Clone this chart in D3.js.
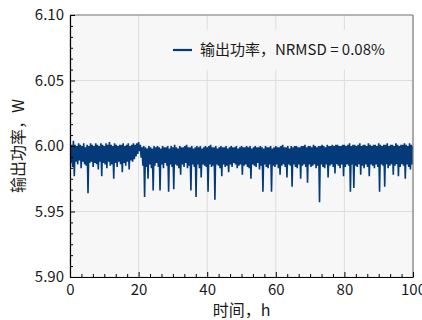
<!DOCTYPE html>
<html>
<head>
<meta charset="utf-8">
<script src="https://cdn.jsdelivr.net/npm/d3@7"></script>
<style>
  html, body { margin: 0; padding: 0; background: #ffffff; }
  svg { display: block; font-family: "Noto Sans CJK SC", "Noto Sans", sans-serif; }
</style>
</head>
<body>
<div id="chart"></div>
<script>
// time step between samples, h
const sampleStep = 0.25;

// measured output power, W (one row per hour, 4 samples each)
const power = [
  5.999, 5.987, 6.001, 5.984,
  6.004, 5.977, 6.001, 5.988,
  6.000, 5.986, 6.002, 5.989,
  6.001, 5.983, 6.000, 5.988,
  6.002, 5.986, 5.999, 5.985,
  6.001, 5.964, 6.000, 5.987,
  6.002, 5.988, 6.001, 5.984,
  6.000, 5.987, 6.002, 5.986,
  6.001, 5.982, 6.000, 5.988,
  6.002, 5.977, 6.001, 5.987,
  6.000, 5.986, 6.002, 5.983,
  6.001, 5.988, 6.003, 5.985,
  6.001, 5.986, 6.000, 5.975,
  6.002, 5.987, 6.001, 5.984,
  6.000, 5.988, 6.001, 5.986,
  6.001, 5.980, 6.002, 5.987,
  6.000, 5.985, 6.001, 5.988,
  6.002, 5.982, 6.000, 5.989,
  6.001, 5.988, 6.002, 5.990,
  6.001, 5.992, 6.002, 5.994,
  6.003, 5.996, 6.001, 5.991,
  5.999, 5.985, 6.000, 5.961,
  5.999, 5.984, 5.998, 5.975,
  6.000, 5.986, 5.999, 5.983,
  5.998, 5.966, 6.000, 5.985,
  5.999, 5.987, 6.000, 5.984,
  5.999, 5.966, 5.998, 5.986,
  6.000, 5.983, 5.999, 5.987,
  5.999, 5.985, 6.000, 5.965,
  5.998, 5.986, 6.000, 5.984,
  5.999, 5.967, 6.001, 5.986,
  5.999, 5.985, 5.998, 5.983,
  6.000, 5.978, 5.999, 5.986,
  5.999, 5.984, 6.000, 5.987,
  6.001, 5.983, 5.999, 5.985,
  5.999, 5.966, 6.000, 5.986,
  5.998, 5.984, 5.999, 5.961,
  6.000, 5.986, 5.999, 5.983,
  6.000, 5.976, 5.998, 5.986,
  5.999, 5.985, 6.000, 5.984,
  5.999, 5.965, 6.000, 5.986,
  6.001, 5.984, 5.999, 5.985,
  5.999, 5.959, 6.000, 5.986,
  5.998, 5.985, 5.999, 5.983,
  6.000, 5.977, 5.999, 5.986,
  5.999, 5.984, 6.000, 5.985,
  5.998, 5.980, 5.999, 5.986,
  6.000, 5.984, 5.999, 5.987,
  5.999, 5.986, 6.000, 5.983,
  5.998, 5.985, 5.999, 5.986,
  6.000, 5.978, 5.999, 5.985,
  5.999, 5.986, 6.000, 5.984,
  5.999, 5.983, 6.000, 5.975,
  5.998, 5.986, 5.999, 5.985,
  6.000, 5.984, 5.999, 5.987,
  5.999, 5.982, 6.000, 5.985,
  5.999, 5.965, 5.998, 5.986,
  6.000, 5.984, 5.999, 5.983,
  5.999, 5.986, 6.000, 5.965,
  5.998, 5.985, 5.999, 5.984,
  6.000, 5.986, 5.999, 5.983,
  5.999, 5.978, 6.000, 5.985,
  6.001, 5.986, 5.999, 5.984,
  5.999, 5.976, 6.000, 5.986,
  5.998, 5.985, 6.000, 5.969,
  5.999, 5.986, 6.000, 5.984,
  6.000, 5.983, 5.999, 5.986,
  5.999, 5.975, 6.000, 5.985,
  6.000, 5.986, 6.001, 5.984,
  5.999, 5.972, 6.000, 5.986,
  6.000, 5.984, 5.999, 5.985,
  6.001, 5.986, 6.000, 5.983,
  5.999, 5.985, 6.000, 5.957,
  6.000, 5.986, 6.001, 5.984,
  6.000, 5.983, 5.999, 5.986,
  6.001, 5.976, 6.000, 5.985,
  6.000, 5.986, 6.001, 5.984,
  6.000, 5.979, 6.001, 5.986,
  6.001, 5.985, 6.000, 5.983,
  6.000, 5.986, 6.001, 5.977,
  6.001, 5.984, 6.000, 5.986,
  6.001, 5.985, 6.002, 5.965,
  6.000, 5.986, 6.001, 5.968,
  6.001, 5.985, 6.000, 5.984,
  6.001, 5.986, 6.002, 5.978,
  6.000, 5.985, 6.001, 5.983,
  6.001, 5.986, 6.000, 5.984,
  6.002, 5.977, 6.001, 5.986,
  6.000, 5.985, 6.001, 5.983,
  6.001, 5.986, 6.000, 5.984,
  6.002, 5.965, 6.001, 5.986,
  6.000, 5.985, 6.001, 5.969,
  6.001, 5.986, 6.002, 5.983,
  6.000, 5.985, 6.001, 5.986,
  6.001, 5.978, 6.000, 5.985,
  6.002, 5.986, 6.001, 5.977,
  6.000, 5.984, 6.001, 5.986,
  6.001, 5.985, 6.002, 5.975,
  6.001, 5.986, 6.000, 5.984,
  6.002, 5.982, 6.001, 5.986,
  6.000
];

const xTicks = [0, 20, 40, 60, 80, 100];
const yTicks = [5.90, 5.95, 6.00, 6.05, 6.10];
const legendLabel = "输出功率，NRMSD = 0.08%";
const xTitle = "时间，h";
const yTitle = "输出功率，W";

const chartOptions = {
  width: 422,
  height: 320,
  margin: { top: 15, right: 9, bottom: 43, left: 70 },
  lineColor: "#023a7a",
  plotBackground: "#f7f7f7",
  gridColor: "#dddddd"
};

const W = chartOptions.width, H = chartOptions.height, m = chartOptions.margin;
const plotW = W - m.left - m.right;
const plotH = H - m.top - m.bottom;

const svg = d3.select("#chart")
  .append("svg")
  .attr("width", W)
  .attr("height", H);

const g = svg.append("g")
  .attr("transform", "translate(" + m.left + "," + m.top + ")");

const xScale = d3.scaleLinear().domain([0, 100]).range([0, plotW]);
const yScale = d3.scaleLinear().domain([5.90, 6.10]).range([plotH, 0]);

// minor ticks: 6 subdivisions per major interval
function minors(ticks) {
  const out = [];
  for (let i = 0; i < ticks.length - 1; i++) {
    const step = (ticks[i + 1] - ticks[i]) / 6;
    for (let k = 1; k < 6; k++) out.push(ticks[i] + k * step);
  }
  return out;
}

// plot background
g.append("rect")
  .attr("width", plotW)
  .attr("height", plotH)
  .attr("fill", chartOptions.plotBackground);

// grid
g.append("g").selectAll("line")
  .data(xTicks)
  .enter().append("line")
  .attr("x1", d => xScale(d)).attr("x2", d => xScale(d))
  .attr("y1", 0).attr("y2", plotH)
  .attr("stroke", chartOptions.gridColor)
  .attr("stroke-width", 1);

g.append("g").selectAll("line")
  .data(yTicks)
  .enter().append("line")
  .attr("x1", 0).attr("x2", plotW)
  .attr("y1", d => yScale(d)).attr("y2", d => yScale(d))
  .attr("stroke", chartOptions.gridColor)
  .attr("stroke-width", 1);

// clip for the data line
svg.append("defs").append("clipPath")
  .attr("id", "plotClip")
  .append("rect")
  .attr("width", plotW)
  .attr("height", plotH);

const line = d3.line()
  .x((d, i) => xScale(i * sampleStep))
  .y(d => yScale(d));

g.append("path")
  .datum(power)
  .attr("clip-path", "url(#plotClip)")
  .attr("fill", "none")
  .attr("stroke", chartOptions.lineColor)
  .attr("stroke-width", 1.6)
  .attr("stroke-linejoin", "miter")
  .attr("d", line);

// legend (box in the plot colour, hides the grid behind it)
const legend = g.append("g").attr("transform", "translate(93,15)");
legend.append("rect")
  .attr("width", 232)
  .attr("height", 40)
  .attr("fill", chartOptions.plotBackground);
legend.append("line")
  .attr("x1", 10).attr("x2", 29)
  .attr("y1", 20).attr("y2", 20)
  .attr("stroke", chartOptions.lineColor)
  .attr("stroke-width", 2.2);
legend.append("text")
  .attr("x", 37)
  .attr("y", 20)
  .attr("dy", "0.36em")
  .style("font-size", "15px")
  .style("fill", "#1a1a1a")
  .text(legendLabel);

// top / right spines (grey)
g.append("line")
  .attr("x1", 0).attr("x2", plotW).attr("y1", 0).attr("y2", 0)
  .attr("stroke", "#7f7f7f").attr("stroke-width", 1.2);
g.append("line")
  .attr("x1", plotW).attr("x2", plotW).attr("y1", 0).attr("y2", plotH)
  .attr("stroke", "#7f7f7f").attr("stroke-width", 1.2);

// axes, ticks pointing inward
g.append("g")
  .attr("transform", "translate(0," + plotH + ")")
  .call(d3.axisBottom(xScale).tickValues(xTicks).tickFormat(d3.format("d"))
    .tickSizeInner(-5).tickSizeOuter(0).tickPadding(7));
g.append("g")
  .attr("transform", "translate(0," + plotH + ")")
  .call(d3.axisBottom(xScale).tickValues(minors(xTicks)).tickFormat("")
    .tickSizeInner(-3).tickSizeOuter(0))
  .select(".domain").remove();

g.append("g")
  .call(d3.axisLeft(yScale).tickValues(yTicks).tickFormat(d3.format(".2f"))
    .tickSizeInner(-5).tickSizeOuter(0).tickPadding(6));
g.append("g")
  .call(d3.axisLeft(yScale).tickValues(minors(yTicks)).tickFormat("")
    .tickSizeInner(-3).tickSizeOuter(0))
  .select(".domain").remove();

svg.selectAll(".tick text")
  .style("font-size", "15px")
  .style("font-family", "'Noto Sans CJK SC', sans-serif")
  .attr("fill", "#1a1a1a");
svg.selectAll(".domain").attr("stroke", "#000").attr("stroke-width", 1.2);
svg.selectAll(".tick line").attr("stroke", "#000").attr("stroke-width", 1);

// axis titles
svg.append("text")
  .attr("x", m.left + plotW / 2)
  .attr("y", 316)
  .attr("text-anchor", "middle")
  .style("font-size", "16px")
  .style("fill", "#1a1a1a")
  .text(xTitle);

svg.append("text")
  .attr("transform", "translate(24," + (m.top + plotH / 2) + ") rotate(-90)")
  .attr("text-anchor", "middle")
  .style("font-size", "16px")
  .style("fill", "#1a1a1a")
  .text(yTitle);
</script>
</body>
</html>
